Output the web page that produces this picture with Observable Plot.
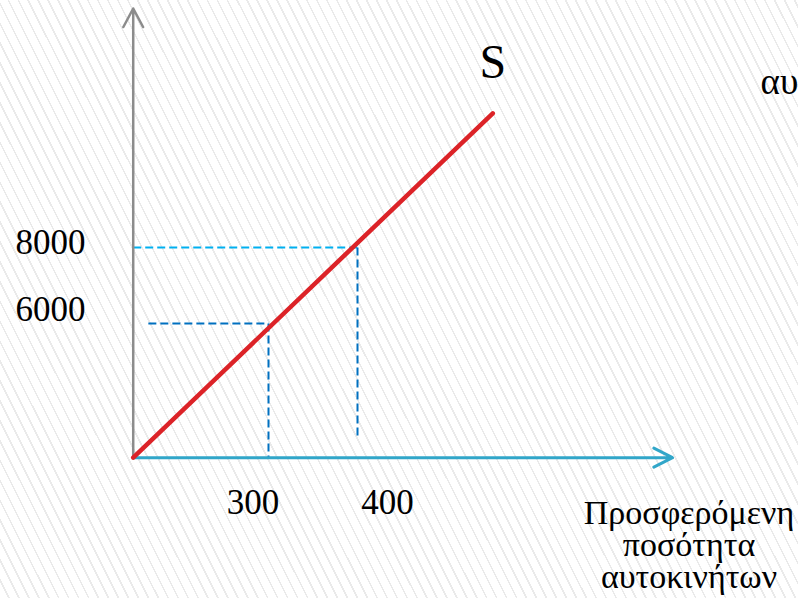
<!DOCTYPE html>
<html>
<head>
<meta charset="utf-8">
<script src="https://cdn.jsdelivr.net/npm/d3@7"></script>
<script src="https://cdn.jsdelivr.net/npm/@observablehq/plot@0.6"></script>
<style>
  html, body { margin: 0; padding: 0; overflow: hidden; }
  body {
    width: 798px; height: 598px;
    background: repeating-linear-gradient(63.4deg, #ffffff 0px, #ffffff 7.3px, #eaeaea 7.3px, #eaeaea 8.9px);
  }
  #chart svg { display: block; }
</style>
</head>
<body>
<div id="chart"></div>
<script>
// ---- data (schematic chart: values calibrated on the 300/400 and 6000/8000 guides) ----
const quantityTicks = [300, 400];          // x labels
const priceTicks = [6000, 8000];           // y labels
const originQuantity = 148;                // where the drawn axes meet
const originPrice = 2470;
const supplyQuantity = [148, 552];         // S line endpoints (x)
const supplyPrice = [2470, 11530];         // S line endpoints (y)
const guideStartX = [148, 165];            // horizontal dashed guides start (8000, 6000)
const guideEndX = [400, 300];
const guidePrice = [8000, 6000];
const guideBottomY = [2970, 2470];         // vertical dashed guides bottom (400, 300)
const xAxisEnd = 754;
const yAxisEnd = 14290;
const curveLabel = "S";
const cutLabel = "αυ";
const xTitle = "Προσφερόμενη\nποσότητα\nαυτοκινήτων";

const supply = supplyQuantity.map((q, i) => ({q, p: supplyPrice[i]}));
const hGuides = guidePrice.map((p, i) => ({x1: guideStartX[i], x2: guideEndX[i], y: p}));
const vGuides = guideEndX.map((q, i) => ({x: q, y1: guidePrice[i], y2: guideBottomY[i]}));

const serif = "'Liberation Serif', 'Times New Roman', serif";

const chart = Plot.plot({
  width: 798,
  height: 598,
  margin: 0,
  x: {type: "linear", domain: [300, 400], range: [268, 357], axis: null},
  y: {type: "linear", domain: [6000, 8000], range: [323, 247], axis: null},
  style: {background: "transparent"},
  marks: [
    // dashed guides
    Plot.link([hGuides[0]], {x1: "x1", x2: "x2", y1: "y", y2: "y", stroke: "#00b0f0", strokeWidth: 2, strokeDasharray: "8,4"}),
    Plot.link([hGuides[1]], {x1: "x1", x2: "x2", y1: "y", y2: "y", stroke: "#0070c0", strokeWidth: 2, strokeDasharray: "8,4"}),
    Plot.link(vGuides, {x1: "x", x2: "x", y1: "y1", y2: "y2", stroke: "#0070c0", strokeWidth: 2, strokeDasharray: "8,4"}),
    // axes
    Plot.arrow([{x1: originQuantity, y1: originPrice, x2: originQuantity, y2: yAxisEnd}], {x1: "x1", y1: "y1", x2: "x2", y2: "y2", stroke: "#8c8c8c", strokeWidth: 2.5, headLength: 12.6, headAngle: 56}),
    Plot.arrow([{x1: originQuantity, y1: originPrice, x2: xAxisEnd, y2: originPrice}], {x1: "x1", y1: "y1", x2: "x2", y2: "y2", stroke: "#31a6c9", strokeWidth: 3, headLength: 10.5, headAngle: 54}),
    // supply line
    Plot.line(supply, {x: "q", y: "p", stroke: "#dc2328", strokeWidth: 4.5}),
    // labels
    Plot.text([priceTicks[1]], {y: d => d, text: d => String(d), frameAnchor: "left", textAnchor: "start", lineAnchor: "bottom", dx: 15, dy: 6, fontSize: 35, fontFamily: serif, fill: "#000"}),
    Plot.text([priceTicks[0]], {y: d => d, text: d => String(d), frameAnchor: "left", textAnchor: "start", lineAnchor: "bottom", dx: 15, dy: -3, fontSize: 35, fontFamily: serif, fill: "#000"}),
    Plot.text([quantityTicks[0]], {x: d => d, y: () => originPrice, text: d => String(d), textAnchor: "middle", lineAnchor: "bottom", dx: -15.5, dy: 56, fontSize: 35, fontFamily: serif, fill: "#000"}),
    Plot.text([quantityTicks[1]], {x: d => d, y: () => originPrice, text: d => String(d), textAnchor: "middle", lineAnchor: "bottom", dx: 30, dy: 56, fontSize: 35, fontFamily: serif, fill: "#000"}),
    Plot.text([supply[1]], {x: "q", y: "p", text: () => curveLabel, textAnchor: "middle", lineAnchor: "bottom", dy: -35, fontSize: 48, fontFamily: serif, fill: "#000"}),
    Plot.text([cutLabel], {text: d => d, frameAnchor: "top-right", textAnchor: "start", lineAnchor: "bottom", dx: -38, dy: 93, fontSize: 37, fontFamily: serif, fill: "#000"}),
    Plot.text([xTitle], {text: d => d, frameAnchor: "bottom-right", textAnchor: "middle", lineAnchor: "bottom", lineHeight: 0.94, dx: -109.5, dy: -11, fontSize: 34, fontFamily: serif, fill: "#000"})
  ]
});
document.getElementById("chart").append(chart);
</script>
</body>
</html>
